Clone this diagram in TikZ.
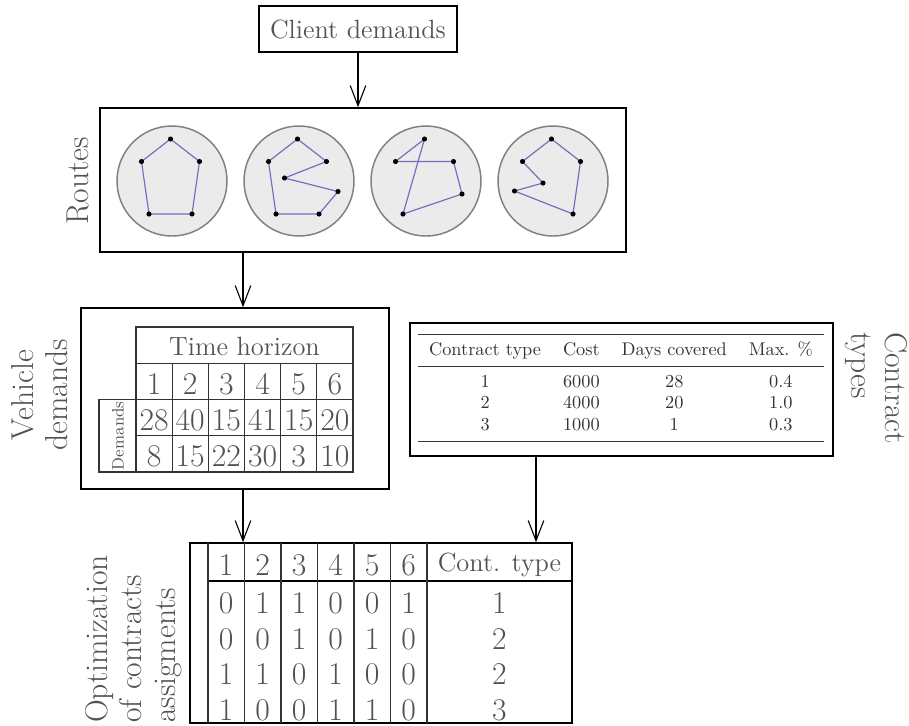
\documentclass[tikz,border=0pt]{standalone}
\usepackage{booktabs}
\usetikzlibrary{arrows.meta,fit}

\definecolor{txtgray}{gray}{0.32}
\definecolor{tabgray}{gray}{0.2}
\definecolor{routeblue}{RGB}{112,112,192}
\definecolor{discgray}{gray}{0.92}

\tikzset{
	box/.style={draw, line width=0.85pt, inner sep=0pt},
	flow/.style={-{Straight Barb[length=11pt,width=8.5pt]}, line width=0.6pt},
	cell/.style={draw=black!80, line width=0.65pt},
	num/.style={text=txtgray, font=\Large, inner sep=0pt},
	digit/.style={text=txtgray, font=\LARGE, inner sep=0pt},
	lbl/.style={text=txtgray, font=\fontsize{17.28pt}{18.6pt}\selectfont, inner sep=0pt},
	disc/.style={draw=black!50, line width=0.8pt, fill=discgray},
	route/.style={draw=routeblue, line width=0.65pt},
	halt/.style={fill=black},
}

\begin{document}
\begin{tikzpicture}[x=0.0192cm, y=-0.0192cm]
	\useasboundingbox (0,0) rectangle (909,725);

	\node[box, num, inner sep=0pt, minimum width=3.8cm, minimum height=0.88cm] (client) at (358,29) {Client demands};

	% routes
	\node[box, fit={(100,108) (626,252)}] (routes) {};
	\node[lbl, rotate=90] (routeslbl) at (78,181) {Routes};

	\foreach \cx in {172,299,426,553}
		\draw[disc] (\cx,181) circle(55);

	\draw[route] (170.5,139) -- (141.5,161.5) -- (149,214) -- (192,214) -- (199.5,161.5) -- cycle;
	\draw[route] (297.5,139) -- (268.5,161.5) -- (276,214) -- (319,214) -- (338,191.5) -- (284.5,178) -- (326.5,161.5) -- cycle;
	\draw[route] (424.5,139) -- (395.5,161.5) -- (453.5,161.5) -- (462,194) -- (403,214) -- cycle;
	\draw[route] (551.5,139) -- (522.5,161.5) -- (543,183) -- (514.5,191) -- (573,214) -- (580.5,161.5) -- cycle;

	\foreach \px/\py in {170.5/139, 141.5/161.5, 199.5/161.5, 149/214, 192/214,
		297.5/139, 268.5/161.5, 326.5/161.5, 276/214, 319/214, 338/191.5, 284.5/178,
		424.5/139, 395.5/161.5, 453.5/161.5, 462/194, 403/214,
		551.5/139, 522.5/161.5, 580.5/161.5, 573/214, 543/183, 514.5/191}
		\fill[halt] (\px,\py) circle(1.4pt);

	% vehicle demands
	\node[box, fit={(81,308) (389,489)}] (vehicle) {};
	\node[lbl, rotate=90, align=center] (vehiclelbl) at (40,395) {Vehicle\\demands};

	\draw[cell] (136,327) rectangle (353,472);
	\draw[cell] (136,363.25) -- (353,363.25);
	\draw[cell] (99,399.5) -- (353,399.5);
	\draw[cell] (136,435.75) -- (353,435.75);
	\draw[cell] (99,399.5) rectangle (136,472);
	\foreach \i in {1,...,5}
		\draw[cell] ({136+36.17*\i},363.25) -- ({136+36.17*\i},472);

	\node[num] (horizon) at (244.5,346) {Time horizon};
	\node[text=txtgray, font=\small, rotate=90, inner sep=0pt] (demlbl) at (118,435.75) {Demands};
	\foreach \d [count=\i] in {1,...,6}
		\node[digit] (day\i) at ({117.9+36.17*\i},384) {\d};
	\foreach \v [count=\i] in {28,40,15,41,15,20}
		\node[digit] (dema\i) at ({117.9+36.17*\i},420) {\v};
	\foreach \v [count=\i] in {8,15,22,30,3,10}
		\node[digit] (demb\i) at ({117.9+36.17*\i},456) {\v};

	% contract types
	\node[box, fit={(410,323) (833,456)}] (contracts) {};
	\node[lbl, rotate=-90, align=left] (contractslbl) at (876,388) {Contract\\types};
	\node[inner sep=0pt, text=tabgray] (ctable) at (621,388) {%
		\begin{tabular}{cccc}
			\toprule
			Contract type & Cost & Days covered & Max. \% \\
			\midrule
			1 & 6000 & 28 & 0.4 \\
			2 & 4000 & 20 & 1.0 \\
			3 & 1000 & 1 & 0.3 \\
			\bottomrule
		\end{tabular}};

	% contract assignments
	\node[box, fit={(190,543) (572,723)}] (assign) {};
	\node[lbl, rotate=90, align=left] (assignlbl) at (134,639) {Optimization\\of contracts\\assigments};

	\draw[box] (208,581) -- (572,581);
	\foreach \i in {0,...,6}
		\draw[cell] ({208+36.5*\i},543) -- ({208+36.5*\i},723);

	\foreach \d [count=\i] in {1,...,6}
		\node[digit] (col\i) at ({189.75+36.5*\i},565) {\d};
	\node[num] (typecol) at (499.5,565) {Cont. type};

	\foreach \row [count=\r] in {{0,1,1,0,0,1},{0,0,1,0,1,0},{1,1,0,1,0,0},{1,0,0,1,1,0}}
		\foreach \v [count=\c] in \row
			\node[digit] (x\r-\c) at ({189.75+36.5*\c},{568+35.5*\r}) {\v};
	\foreach \t [count=\r] in {1,2,2,3}
		\node[digit] (type\r) at (499.5,{568+35.5*\r}) {\t};

	% flow between the steps
	\coordinate (vx) at (243,0);
	\coordinate (cx) at (536,0);
	\draw[flow] (client.south) -- (client.south |- routes.north);
	\draw[flow] (routes.south -| vx) -- (vehicle.north -| vx);
	\draw[flow] (vehicle.south -| vx) -- (assign.north -| vx);
	\draw[flow] (contracts.south -| cx) -- (assign.north -| cx);

\end{tikzpicture}
\end{document}
